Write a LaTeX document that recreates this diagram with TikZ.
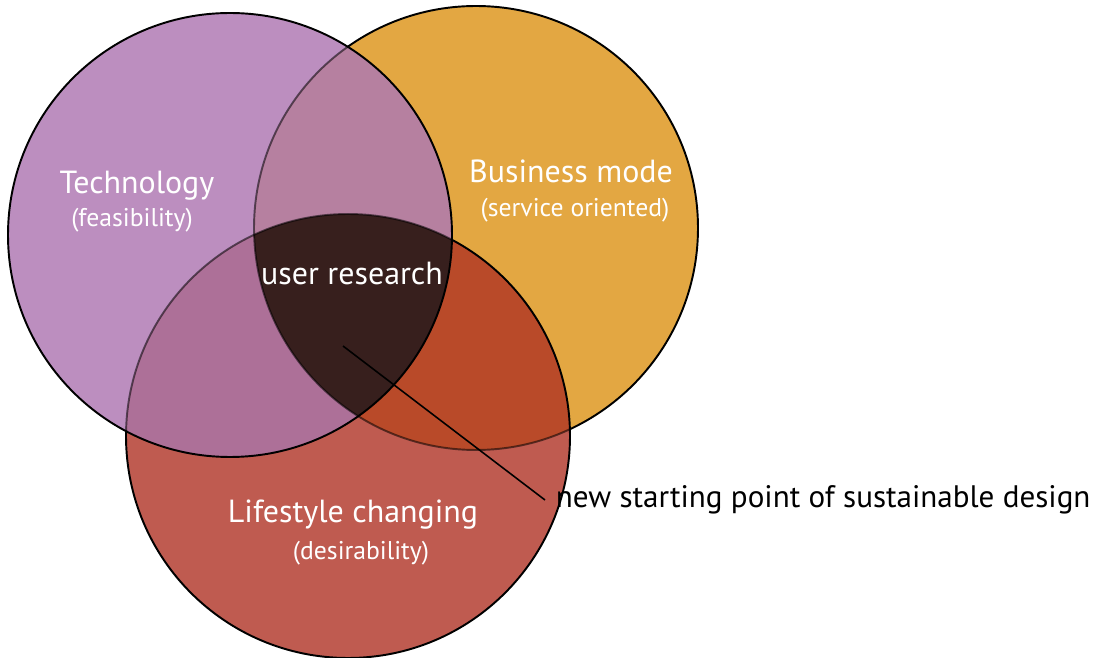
\documentclass[tikz,border=0pt]{standalone}
\usepackage{fontspec}
\setmainfont{PT Sans}
\definecolor{techcol}{RGB}{188,142,191}
\definecolor{bizcol}{RGB}{227,167,66}
\definecolor{lifecol}{RGB}{191,91,80}
\definecolor{techbizcol}{RGB}{182,128,160}
\definecolor{techlifecol}{RGB}{173,112,152}
\definecolor{bizlifecol}{RGB}{185,74,41}
\definecolor{corecol}{RGB}{55,31,29}

\begin{document}
\begin{tikzpicture}[x=0.02cm,y=-0.02cm]
\tikzstyle{every node}+=[inner sep=0pt,text=white]
\tikzstyle{bigname}=[font=\fontsize{18.2}{21}\selectfont]
\tikzstyle{smallname}=[font=\fontsize{14.6}{17}\selectfont]
\tikzstyle{notename}=[font=\fontsize{17.7}{21}\selectfont]
\tikzstyle{edge}=[black,line width=1.1pt]
\tikzstyle{thinedge}=[black,opacity=0.55,line width=1.1pt]
\useasboundingbox (0,0) rectangle (1093,658);
\coordinate (T) at (230,235);
\coordinate (B) at (476,228);
\coordinate (L) at (348,436);
\fill [bizcol] (B) circle (222);
\draw [edge] (B) circle (222);
\fill [lifecol] (L) circle (222);
\begin{scope}
\clip (L) circle (222);
\fill [bizlifecol] (B) circle (222);
\draw [thinedge] (B) circle (222);
\end{scope}
\draw [edge] (L) circle (222);
\fill [techcol] (T) circle (222);
\begin{scope}
\clip (T) circle (222);
\fill [techbizcol] (B) circle (222);
\fill [techlifecol] (L) circle (222);
\clip (B) circle (222);
\fill [corecol] (L) circle (222);
\end{scope}
\begin{scope}
\clip (T) circle (222);
\draw [thinedge] (B) circle (222);
\draw [thinedge] (L) circle (222);
\end{scope}
\draw [edge] (T) circle (222);
\node [bigname] (tech) at (137,186) {Technology};
\node [smallname] (techsub) at (132,220) {(feasibility)};
\node [bigname] (biz) at (571,171) {Business mode};
\node [smallname] (bizsub) at (575,210) {(service oriented)};
\node [bigname] (core) at (352,274) {user research};
\node [bigname] (life) at (353,515) {Lifestyle changing};
\node [smallname] (lifesub) at (361,553) {(desirability)};
\coordinate (focus) at (343,346);
\node [notename,text=black,anchor=west,inner xsep=6pt] (note) at (545,500) {new starting point of sustainable design};
\draw [black,line width=0.9pt] (focus) -- (note.west);
\end{tikzpicture}
\end{document}
